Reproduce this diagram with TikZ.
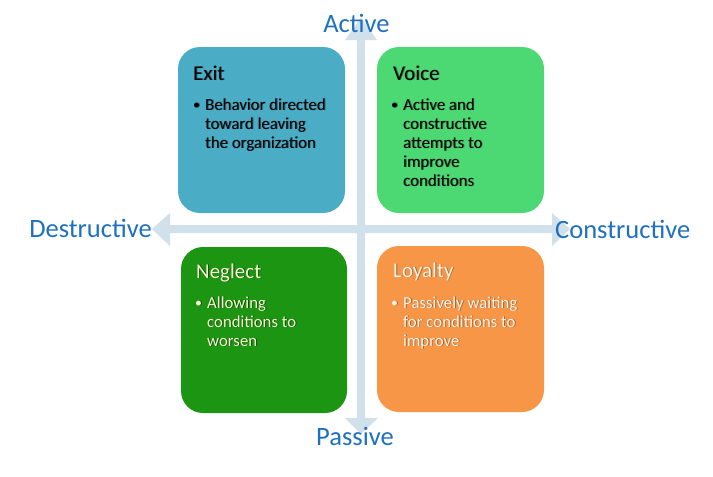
\documentclass[tikz,border=0pt]{standalone}
\usepackage{fontspec}
\setmainfont{Carlito}
\definecolor{axisc}{HTML}{D0E1EB}
\definecolor{labc}{HTML}{1F70C1}
\definecolor{exitc}{HTML}{4BACC6}
\definecolor{voicec}{HTML}{4CD873}
\definecolor{neglc}{HTML}{1B9512}
\definecolor{loyc}{HTML}{F79646}
\definecolor{negtxt}{HTML}{FAFAD2}
\definecolor{loytxt}{HTML}{FFF4EA}
\newcommand\qtxt[6]{% name, x, y, style, shadow colour, text
  \node[#4, text=#5] (#1s) at (#2+0.9,#3+0.9) {#6};
  \node[#4] (#1) at (#2,#3) {#6};}
\newcommand\bul{\makebox[12pt][l]{\raisebox{1pt}{\fontsize{14}{19}\selectfont •}}}
\begin{document}
\begin{tikzpicture}[x=1pt,y=-1pt,
  quad/.style={rounded corners=22pt, minimum width=167pt, minimum height=166pt, inner sep=0pt, draw=none},
  axlab/.style={text=labc, font=\fontsize{26.5}{30}\selectfont, inner sep=0pt},
  ttl/.style={anchor=base west, inner sep=0pt, font=\fontsize{21}{24}\selectfont},
  txt/.style={anchor=base west, inner sep=0pt, font=\fontsize{16.8}{19}\selectfont},
  dk/.style={text=black},
  ng/.style={text=negtxt},
  ly/.style={text=loytxt}]
\useasboundingbox (0,0) rectangle (713,477);
\fill[white] (0,0) rectangle (713,477);
% axes
\fill[axisc] (357,40) -- (345,40) -- (361,18) -- (377,40) -- (365,40) -- (365,418)
  -- (378,418) -- (361,434) -- (345,418) -- (357,418) -- cycle;
\fill[axisc] (170,225) -- (170,213) -- (152,229) -- (170,246) -- (170,233) -- (552,233)
  -- (552,246) -- (570,229) -- (552,213) -- (552,225) -- cycle;
% boxes
\node[quad, fill=exitc] (exit) at (261.5,130) {};
\node[quad, fill=voicec] (voice) at (460.5,130) {};
\node[quad, fill=neglc, minimum width=166pt] (neglect) at (264,330) {};
\node[quad, fill=loyc] (loyalty) at (460.5,329) {};
% axis labels
\node[axlab, anchor=base] (active) at (356.5,32) {Active};
\node[axlab, anchor=base] (passive) at (355,445) {Passive};
\node[axlab, anchor=base] (destr) at (90.5,237) {Destructive};
\node[axlab, anchor=base west] (constr) at (555,238) {Constructive};
% Exit
\qtxt{exitT}{193}{80}{ttl,dk}{exitc!55!black}{Exit}
\qtxt{exit1}{193}{110}{txt,dk}{exitc!55!black}{\bul Behavior directed}
\qtxt{exit2}{205}{129}{txt,dk}{exitc!55!black}{toward leaving}
\qtxt{exit3}{205}{148}{txt,dk}{exitc!55!black}{the organization}
% Voice
\qtxt{voiceT}{393}{80}{ttl,dk}{voicec!55!black}{Voice}
\qtxt{voice1}{391}{110}{txt,dk}{voicec!55!black}{\bul Active and}
\qtxt{voice2}{403}{129}{txt,dk}{voicec!55!black}{constructive}
\qtxt{voice3}{403}{148}{txt,dk}{voicec!55!black}{attempts to}
\qtxt{voice4}{403}{167}{txt,dk}{voicec!55!black}{improve}
\qtxt{voice5}{403}{186}{txt,dk}{voicec!55!black}{conditions}
% Neglect
\qtxt{neglT}{196}{278}{ttl,ng}{neglc!50!black}{Neglect}
\qtxt{negl1}{195}{308}{txt,ng}{neglc!50!black}{\bul Allowing}
\qtxt{negl2}{207}{327}{txt,ng}{neglc!50!black}{conditions to}
\qtxt{negl3}{207}{346}{txt,ng}{neglc!50!black}{worsen}
% Loyalty
\qtxt{loyT}{393}{277}{ttl,ly}{loyc!65!black}{Loyalty}
\qtxt{loy1}{391}{308}{txt,ly}{loyc!65!black}{\bul Passively waiting}
\qtxt{loy2}{403}{327}{txt,ly}{loyc!65!black}{for conditions to}
\qtxt{loy3}{403}{346}{txt,ly}{loyc!65!black}{improve}
\end{tikzpicture}
\end{document}
